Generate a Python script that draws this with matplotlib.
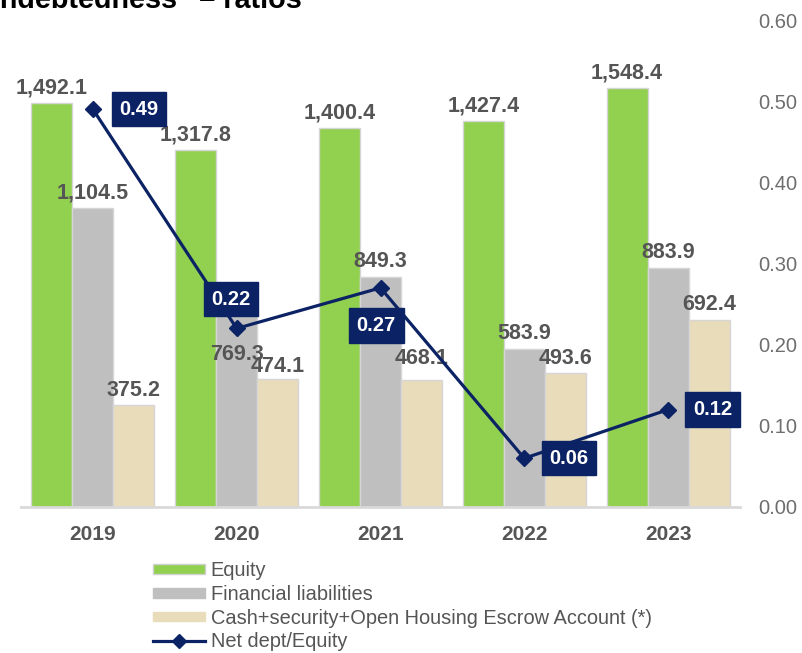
import matplotlib
matplotlib.use("Agg")
import matplotlib.pyplot as plt
import numpy as np
from matplotlib.patches import Patch
from matplotlib.lines import Line2D

plt.rcParams['font.family'] = ['Liberation Sans', 'DejaVu Sans']

years = ["2019", "2020", "2021", "2022", "2023"]
equity = [1492.1, 1317.8, 1400.4, 1427.4, 1548.4]
fin_liab = [1104.5, 769.3, 849.3, 583.9, 883.9]
cash = [375.2, 474.1, 468.1, 493.6, 692.4]
ratio = [0.49, 0.22, 0.27, 0.06, 0.12]
right_ticks = [0.0, 0.1, 0.2, 0.3, 0.4, 0.5, 0.6]

series_names = ["Equity", "Financial liabilities",
                "Cash+security+Open Housing Escrow Account (*)", "Net dept/Equity"]

C_GREEN = "#92d050"
C_GRAY = "#bfbfbf"
C_BEIGE = "#e9dcba"
C_NAVY = "#0b2264"
C_TXT = "#555555"

W, H = 802, 653
fig = plt.figure(figsize=(W / 100, H / 100), dpi=100)
ax = fig.add_axes([21 / W, 1 - 507 / H, (740 - 21) / W, (507 - 20) / H])
ax2 = ax.twinx()

x = np.arange(len(years))
bw = 0.285
data = [equity, fin_liab, cash]
cols = [C_GREEN, C_GRAY, C_BEIGE]
# label offsets (points) per series per year
offs = [[11] * 5, [11, -40, 11, 11, 11], [11, 9, 16, 11, 11]]
for i, (vals, c) in enumerate(zip(data, cols)):
    xs = x + (i - 1) * bw
    ax.bar(xs, vals, width=bw, color=c, edgecolor="#d6d6d6", linewidth=1.0, zorder=2)
    for j, (xx, v) in enumerate(zip(xs, vals)):
        ax.annotate(f"{v:,.1f}", (xx, v), xytext=(0, offs[i][j]), textcoords="offset points",
                    ha="center", va="center", fontsize=15.5, fontweight="bold", color=C_TXT,
                    zorder=3)

ax.set_xlim(-0.5, len(years) - 0.5)
ax.set_ylim(0, 1800)
ax.set_yticks([])
ax.set_xticks(x)
ax.set_xticklabels(years, fontsize=15, fontweight="bold", color=C_TXT)
ax.tick_params(axis="x", length=0, pad=13)
for s in ["top", "left", "right"]:
    ax.spines[s].set_visible(False)
ax.spines["bottom"].set_color("#d9d9d9")
ax.spines["bottom"].set_linewidth(2)

ax2.plot(x, ratio, color=C_NAVY, linewidth=2.3, marker="D", markersize=8.5, zorder=5)
ax2.set_ylim(0, 0.6)
ax2.set_yticks(right_ticks)
ax2.set_yticklabels([f"{t:.2f}" for t in right_ticks], fontsize=14.5, color="#6e6e6e")
ax2.tick_params(axis="y", length=0, pad=13)
for s in ["top", "left", "right", "bottom"]:
    ax2.spines[s].set_visible(False)

box_offs = [(33, 0), (-4, 21), (-3, -27), (32, 0), (32, 0)]
for xx, v, o in zip(x, ratio, box_offs):
    ax2.annotate(f"{v:.2f}", (xx, v), xytext=o, textcoords="offset points",
                 ha="center", va="center", fontsize=14.5, fontweight="bold", color="white",
                 bbox=dict(boxstyle="square,pad=0.38", fc=C_NAVY, ec=C_NAVY), zorder=6)

handles = [Patch(facecolor=C_GREEN, edgecolor="#d0d0d0"),
           Patch(facecolor=C_GRAY, edgecolor=C_GRAY),
           Patch(facecolor=C_BEIGE, edgecolor=C_BEIGE),
           Line2D([], [], color=C_NAVY, lw=2.3, marker="D", markersize=7)]
fig.legend(handles, series_names, loc="upper left", bbox_to_anchor=(153 / W, 1 - 561 / H),
           frameon=False, fontsize=14.4, labelcolor=C_TXT, handlelength=2.6,
           handleheight=0.38, handletextpad=0.28, labelspacing=0.24, borderpad=0,
           borderaxespad=0)

fig.text(-8 / W, 1 - 8 / H, "Indebtedness\u201d \u2013 ratios", fontsize=20.7,
         fontweight="bold", color="black", ha="left", va="baseline")

fig.savefig("out.png", dpi=100)
